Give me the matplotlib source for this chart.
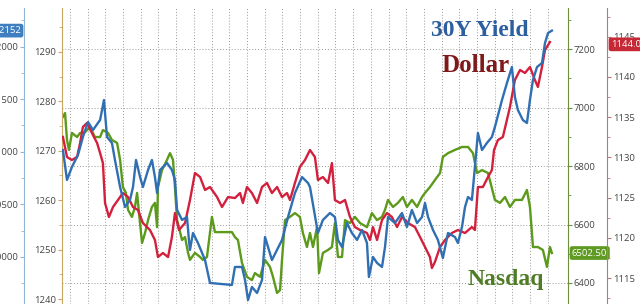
import numpy as np
import matplotlib
matplotlib.use("Agg")
import matplotlib.pyplot as plt
from matplotlib.ticker import MultipleLocator, FuncFormatter
from matplotlib.transforms import blended_transform_factory

# time axis in trading sessions (one dotted gridline per session)
blue_t = [-0.40, -0.17, 0.11, 0.45, 0.73, 1.02, 1.30, 1.58, 1.70, 1.92,
          2.09, 2.37, 2.54, 2.83, 3.11, 3.39, 3.56, 3.73, 3.96, 4.12,
          4.41, 4.63, 4.80, 4.92, 5.09, 5.48, 5.76, 5.93, 6.05, 6.33,
          6.61, 6.72, 6.78, 6.95, 7.23, 7.63, 7.91, 9.15, 9.32, 9.72,
          9.89, 10.06, 10.28, 10.57, 10.85, 11.02, 11.19, 11.41, 11.98, 12.32,
          12.71, 13.11, 13.45, 13.56, 14.01, 14.29, 14.69, 14.97, 15.14, 15.37,
          15.65, 15.93, 16.22, 16.50, 16.78, 16.89, 17.12, 17.35, 17.63, 17.80,
          17.97, 18.36, 18.76, 19.04, 19.32, 19.61, 19.89, 20.06, 20.23, 20.51,
          20.79, 21.07, 21.36, 21.75, 21.92, 22.15, 22.32, 22.49, 22.71, 22.88,
          23.05, 23.28, 23.56, 23.84, 24.01, 24.41, 24.69, 24.97, 25.14, 25.31,
          25.59, 25.82, 25.99, 26.16, 26.39, 26.67, 26.84, 27.01, 27.23]
yield30 = [3.1017, 3.0732, 3.0856, 3.0970, 3.1141, 3.1283, 3.1207, 3.1274, 3.1302, 3.1492,
           3.1141, 3.1084, 3.0922, 3.0665, 3.0475, 3.0542, 3.0665, 3.0922, 3.0760, 3.0665,
           3.0827, 3.0922, 3.0760, 3.0608, 3.0827, 3.0894, 3.0827, 3.0732, 3.0447, 3.0352,
           3.0380, 3.0162, 3.0067, 3.0228, 3.0133, 2.9971, 2.9753, 2.9734, 2.9905, 2.9905,
           2.9781, 2.9591, 2.9715, 2.9658, 2.9781, 3.0190, 3.0095, 2.9971, 3.0162, 3.0380,
           3.0608, 3.0760, 3.0703, 3.0665, 3.0228, 3.0352, 3.0418, 3.0380, 3.0162, 3.0095,
           3.0323, 3.0228, 3.0162, 3.0257, 3.0133, 2.9810, 3.0000, 2.9943, 2.9905, 3.0095,
           3.0380, 3.0323, 3.0418, 3.0285, 3.0447, 3.0323, 3.0380, 3.0513, 3.0380, 3.0257,
           3.0162, 2.9990, 3.0228, 3.0190, 3.0133, 3.0285, 3.0475, 3.0570, 3.0542, 3.0856,
           3.1179, 3.1017, 3.1084, 3.1141, 3.1236, 3.1492, 3.1654, 3.1806, 3.1521, 3.1397,
           3.1302, 3.1274, 3.1492, 3.1683, 3.1806, 3.1844, 3.2034, 3.2129, 3.2152]

red_t = [-0.40, -0.17, 0.11, 0.40, 0.57, 0.73, 0.96, 1.24, 1.53, 1.70,
         1.86, 1.98, 2.20, 2.43, 2.71, 2.99, 3.28, 3.56, 3.84, 4.12,
         4.52, 4.80, 4.97, 5.25, 5.54, 5.76, 5.93, 6.16, 6.50,
         6.78, 7.06, 7.35, 7.63, 7.91, 8.31, 8.59, 8.93, 9.32, 9.61,
         9.77, 10.00, 10.28, 10.57, 10.85, 11.13, 11.41, 11.70, 11.98, 12.26,
         12.43, 12.71, 12.99, 13.28, 13.56,
         13.84, 14.01, 14.29, 14.58, 14.80, 14.97, 15.26, 15.54, 15.82, 16.10,
         16.39, 16.78, 16.95, 17.12, 17.35, 17.63, 17.91, 18.19, 18.48, 18.76,
         19.10, 19.49, 19.78, 20.06, 20.34, 20.45, 20.62,
         20.91, 21.19, 21.58, 21.92, 22.32, 22.71, 22.88, 23.05, 23.33, 23.62,
         23.84, 23.96, 24.18, 24.46, 24.86, 25.14, 25.43, 25.71, 25.99, 26.27,
         26.44, 26.67, 26.84, 27.12]
dollar = [1132.54, 1130.05, 1129.68, 1130.05, 1131.79, 1133.78, 1134.28, 1133.03, 1131.79, 1130.55,
          1129.30, 1124.33, 1122.59, 1123.83, 1124.70, 1125.57, 1125.07, 1123.83, 1123.46, 1121.84,
          1120.97, 1119.73, 1117.61, 1118.11, 1117.61, 1120.10, 1123.08, 1120.97, 1121.84,
          1124.70, 1128.06, 1127.56, 1125.95, 1126.32, 1125.07, 1123.83, 1125.07, 1124.95, 1125.57,
          1124.33, 1126.32, 1125.57, 1124.33, 1126.32, 1126.82, 1125.57, 1126.32, 1125.07, 1125.57,
          1124.70, 1126.82, 1128.81, 1129.68, 1130.92,
          1130.05, 1127.19, 1127.56, 1126.82, 1129.30, 1124.70, 1124.33, 1124.70, 1122.59, 1121.34,
          1120.97, 1120.60, 1119.73, 1121.34, 1119.73, 1122.21, 1123.08, 1122.59, 1121.34, 1122.59,
          1121.84, 1121.34, 1120.10, 1118.86, 1117.61, 1116.24, 1116.99,
          1118.86, 1119.73, 1120.60, 1120.97, 1120.60, 1121.34, 1120.97, 1126.32, 1126.32, 1127.56,
          1128.43, 1130.92, 1132.16, 1132.54, 1136.27, 1139.63, 1140.87, 1140.50, 1141.24, 1139.63,
          1138.76, 1141.24, 1143.36, 1144.35]

green_t = [-0.40, -0.28, -0.17, -0.06, 0.11, 0.40, 0.57, 0.85, 1.13, 1.41,
           1.70, 1.86, 2.15, 2.37, 2.66, 2.83, 2.99, 3.16, 3.28, 3.50,
           3.67, 3.79, 3.90, 4.07, 4.24, 4.41, 4.63, 4.80, 4.92, 4.97,
           5.20, 5.48, 5.65, 5.82, 5.93, 6.05, 6.33, 6.50, 6.67,
           6.78, 7.06, 7.35, 7.51, 7.74, 8.02, 8.19, 9.15, 9.32, 9.49,
           9.72, 10.00, 10.28, 10.45, 10.74, 11.02, 11.30, 11.47, 11.70, 11.87,
           11.98, 12.15, 12.43, 12.71, 12.99, 13.16, 13.39, 13.56,
           13.73, 13.96, 14.07, 14.29, 14.58, 14.80, 14.97, 15.14, 15.37, 15.54,
           15.82, 16.10, 16.39, 16.78, 17.06, 17.35, 17.63, 17.80, 17.97, 18.25,
           18.53, 18.81, 19.04, 19.32, 19.61, 19.89, 20.06, 20.34, 20.62, 20.91,
           21.07, 21.36, 21.75, 22.15, 22.49, 22.77, 23.00, 23.28, 23.62, 24.01,
           24.30, 24.58, 24.86, 25.14, 25.54, 25.82, 25.99, 26.16, 26.44, 26.72,
           26.95, 27.12, 27.23]
nasdaq = [6968, 6981, 6889, 6855, 6913, 6899, 6913, 6916, 6933, 6899,
          6899, 6923, 6913, 6889, 6879, 6821, 6728, 6708, 6650, 6626,
          6660, 6708, 6639, 6537, 6571, 6615, 6660, 6674, 6591, 6728,
          6786, 6821, 6844, 6821, 6728, 6615, 6547, 6557, 6503,
          6479, 6503, 6489, 6479, 6489, 6626, 6574, 6574, 6557, 6547,
          6468, 6421, 6410, 6434, 6421, 6479, 6455, 6421, 6366, 6376,
          6479, 6615, 6626, 6639, 6626, 6571, 6523, 6571,
          6523, 6591, 6434, 6503, 6513, 6523, 6605, 6489, 6489, 6615,
          6605, 6626, 6605, 6591, 6639, 6615, 6626, 6650, 6684, 6660,
          6674, 6694, 6660, 6684, 6660, 6694, 6708, 6728, 6752, 6776,
          6831, 6844, 6855, 6865, 6865, 6844, 6776, 6786, 6776, 6684,
          6674, 6694, 6660, 6684, 6684, 6718, 6660, 6523, 6523, 6513,
          6455, 6523, 6502.5]

nasdaq_ticks = [6400, 6600, 6800, 7000, 7200]
dollar_ticks = [1115, 1120, 1125, 1130, 1135, 1140, 1145]
gold_ticks = [1240, 1250, 1260, 1270, 1280, 1290]
yield_ticks = [3.0000, 3.0500, 3.1000, 3.1500, 3.2000]

c_blue = "#2f6fb2"
c_red = "#d3203d"
c_green = "#5c9a1c"
lab_col = "#444444"
tick_font = dict(family="Open Sans", size=6.8, color=lab_col)

fig = plt.figure(figsize=(6.4, 3.04), dpi=100)
W, H = 640, 304
ax = fig.add_axes([62 / W, 0, 506 / W, 296 / H])
ax.set_xlim(-0.452, 28.14)

# twin axes first (twinx resets the host ticks to the left)
axg = ax.twinx()
axr = ax.twinx()
axb = ax.twinx()


def style_axis(a, side, col, major, minor, lim):
    a.set_ylim(*lim)
    a.set_yticks(major)
    a.yaxis.set_minor_locator(MultipleLocator(minor))
    if side == "left":
        a.yaxis.tick_left()
    else:
        a.yaxis.tick_right()
    for s in ["top", "bottom", "left", "right"]:
        a.spines[s].set_visible(s == side)
    a.spines[side].set_color(col)
    a.tick_params(axis="y", which="both", colors=col, direction="out", pad=1.2)
    a.tick_params(axis="y", which="major", length=3)
    a.tick_params(axis="y", which="minor", length=2)
    for lbl in a.get_yticklabels():
        lbl.set(**tick_font)


# green Nasdaq on the main axes, scale on the right
ax.plot(green_t, nasdaq, color=c_green, lw=1.7)
ax.set_xticks(np.arange(0, 28))
ax.tick_params(axis="x", length=0, labelbottom=False)
ax.grid(True, which="major", color="#9a9a9a", lw=0.7, ls=(0, (1, 2)))
style_axis(ax, "right", "#6d8f3d", nasdaq_ticks, 100, (6328.2, 7340.2))

# gold axis (left), no visible series
style_axis(axg, "left", "#c9a760", gold_ticks, 5, (1238.99, 1298.9))

# red Dollar, outer right axis
axr.plot(red_t, dollar, color=c_red, lw=1.7)
axr.spines["right"].set_position(("axes", (607 - 62) / 506))
style_axis(axr, "right", "#b47a7a", dollar_ticks, 2.5, (1111.77, 1148.58))

# blue 30Y yield, outer left axis
axb.plot(blue_t, yield30, color=c_blue, lw=1.7)
axb.yaxis.set_major_formatter(FuncFormatter(lambda v, p: f"{v:.4f}"))
axb.spines["left"].set_position(("axes", (24 - 62) / 506))
style_axis(axb, "left", "#93b5d6", yield_ticks, 0.025, (2.9553, 3.2367))

# last-value tags
tb = blended_transform_factory(axb.transAxes, axb.transData)
axb.text((21 - 62) / 506, yield30[-1], f"{yield30[-1]:.4f}", transform=tb,
         ha="right", va="center", color="white", fontsize=6.8, family="Open Sans",
         bbox=dict(boxstyle="round,pad=0.25", fc="#3f7fc0", ec="none"), clip_on=False)
tr = blended_transform_factory(axr.transAxes, axr.transData)
axr.text((611 - 62) / 506, 1144.06, "1144.06", transform=tr, zorder=5,
         ha="left", va="center", color="white", fontsize=6.8, family="Open Sans",
         bbox=dict(boxstyle="round,pad=0.25", fc="#c62835", ec="none"), clip_on=False)
tg = blended_transform_factory(ax.transAxes, ax.transData)
ax.text((572 - 62) / 506, nasdaq[-1], f"{nasdaq[-1]:.2f}", transform=tg,
        ha="left", va="center", color="white", fontsize=6.8, family="Open Sans",
        bbox=dict(boxstyle="round,pad=0.25", fc="#5f9a22", ec="none"), clip_on=False)

# series names
serif = "Liberation Serif"
fig.text(480 / W, 1 - 31 / H, "30Y Yield", ha="center", va="center", color="#2d5f9e",
         fontsize=17, fontweight="bold", family=serif)
fig.text(476 / W, 1 - 66 / H, "Dollar", ha="center", va="center", color="#7e1a1a",
         fontsize=18, fontweight="bold", family=serif)
fig.text(506 / W, 1 - 280 / H, "Nasdaq", ha="center", va="center", color="#4f7d26",
         fontsize=17, fontweight="bold", family=serif)

fig.savefig("out.png", dpi=100)
